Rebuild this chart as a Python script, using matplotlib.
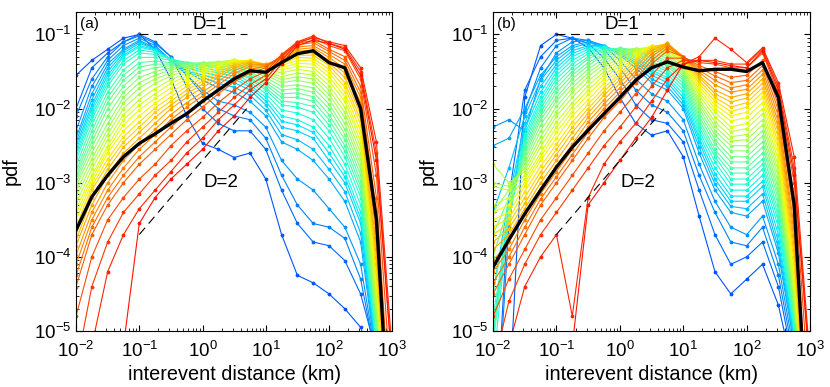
import matplotlib
matplotlib.use("Agg")
import matplotlib.pyplot as plt
import numpy as np

# grid of log10(distance in km) shared by all curves
log_x = [-2.0, -1.75, -1.5, -1.25, -1.0, -0.75, -0.5, -0.25, 0.0, 0.25, 0.5,
         0.75, 1.0, 1.25, 1.5, 1.75, 2.0, 2.25, 2.5, 2.75, 3.0]

# log10(pdf) for each curve, blue -> red
curves_a = [
    [-1.55, -1.35, -1.2, -1.05, -1.0, -1.2, -1.6, -2.1, -2.47, -2.55, -2.66, -2.6, -2.95, -3.7, -4.25, -4.35, -4.5, -4.7, -4.95, -5.6, -7],
    [-2.0, -1.45, -1.25, -1.1, -1.0, -1.1, -1.3, -1.7, -2.0, -2.2, -2.3, -2.3, -2.55, -3.1, -3.55, -3.8, -3.85, -4.05, -4.5, -5.3, -7],
    [-2.1, -1.6, -1.3, -1.1, -1.02, -1.12, -1.3, -1.55, -1.8, -2.0, -2.1, -2.15, -2.4, -2.9, -3.3, -3.55, -3.6, -3.75, -4.3, -5.4, -7],
    [-2.3, -1.7, -1.35, -1.15, -1.05, -1.15, -1.35, -1.55, -1.75, -1.9, -1.95, -2.05, -2.25, -2.7, -2.95, -3.1, -3.35, -3.6, -4.1, -5.4, -7],
    [-2.4, -1.8, -1.4, -1.2, -1.08, -1.18, -1.35, -1.5, -1.62, -1.72, -1.78, -1.9, -2.1, -2.45, -2.55, -2.7, -2.95, -3.25, -3.8, -5.4, -7],
    [-2.45, -1.88, -1.45, -1.22, -1.1, -1.19, -1.35, -1.49, -1.58, -1.66, -1.71, -1.82, -2.02, -2.35, -2.42, -2.55, -2.82, -3.12, -3.68, -5.35, -7],
    [-2.5, -1.95, -1.5, -1.25, -1.12, -1.2, -1.35, -1.48, -1.55, -1.6, -1.65, -1.75, -1.95, -2.25, -2.3, -2.4, -2.7, -3.0, -3.55, -5.3, -7],
    [-2.55, -2.0, -1.55, -1.28, -1.15, -1.21, -1.34, -1.45, -1.51, -1.56, -1.6, -1.71, -1.9, -2.17, -2.22, -2.32, -2.6, -2.92, -3.48, -5.25, -7],
    [-2.6, -2.05, -1.6, -1.3, -1.17, -1.22, -1.33, -1.42, -1.48, -1.52, -1.56, -1.68, -1.85, -2.1, -2.15, -2.25, -2.5, -2.85, -3.4, -5.2, -7],
    [-2.65, -2.1, -1.65, -1.35, -1.21, -1.24, -1.33, -1.4, -1.45, -1.49, -1.53, -1.64, -1.8, -2.02, -2.06, -2.15, -2.4, -2.75, -3.3, -5.15, -7],
    [-2.7, -2.15, -1.7, -1.4, -1.25, -1.27, -1.33, -1.38, -1.42, -1.46, -1.5, -1.6, -1.75, -1.95, -1.98, -2.05, -2.3, -2.65, -3.2, -5.1, -7],
    [-2.78, -2.22, -1.78, -1.48, -1.31, -1.31, -1.35, -1.38, -1.41, -1.44, -1.48, -1.58, -1.72, -1.9, -1.92, -1.97, -2.22, -2.57, -3.12, -5.05, -7],
    [-2.85, -2.3, -1.85, -1.55, -1.38, -1.36, -1.38, -1.38, -1.4, -1.42, -1.45, -1.55, -1.68, -1.85, -1.85, -1.9, -2.15, -2.5, -3.05, -5.0, -7],
    [-2.9, -2.38, -1.92, -1.62, -1.44, -1.4, -1.4, -1.39, -1.39, -1.4, -1.43, -1.52, -1.65, -1.8, -1.79, -1.84, -2.08, -2.42, -2.98, -4.95, -7],
    [-2.95, -2.45, -2.0, -1.7, -1.5, -1.45, -1.42, -1.4, -1.38, -1.39, -1.42, -1.5, -1.62, -1.75, -1.73, -1.78, -2.0, -2.35, -2.9, -4.9, -7],
    [-3.0, -2.52, -2.1, -1.78, -1.58, -1.5, -1.45, -1.41, -1.38, -1.38, -1.4, -1.47, -1.58, -1.7, -1.68, -1.72, -1.94, -2.28, -2.82, -4.82, -7],
    [-3.05, -2.6, -2.2, -1.85, -1.65, -1.55, -1.48, -1.42, -1.38, -1.37, -1.38, -1.45, -1.55, -1.65, -1.62, -1.66, -1.87, -2.2, -2.75, -4.75, -7],
    [-3.12, -2.68, -2.28, -1.92, -1.72, -1.6, -1.52, -1.45, -1.4, -1.37, -1.36, -1.42, -1.52, -1.61, -1.57, -1.6, -1.81, -2.12, -2.68, -4.68, -7],
    [-3.2, -2.75, -2.35, -2.0, -1.8, -1.66, -1.56, -1.48, -1.42, -1.37, -1.35, -1.4, -1.5, -1.57, -1.52, -1.55, -1.75, -2.05, -2.6, -4.6, -7],
    [-3.28, -2.82, -2.42, -2.08, -1.88, -1.73, -1.61, -1.52, -1.45, -1.38, -1.34, -1.38, -1.47, -1.52, -1.47, -1.5, -1.69, -1.98, -2.52, -4.52, -7],
    [-3.35, -2.9, -2.5, -2.15, -1.95, -1.8, -1.66, -1.56, -1.48, -1.4, -1.34, -1.37, -1.45, -1.48, -1.43, -1.45, -1.63, -1.9, -2.45, -4.45, -7],
    [-3.42, -2.95, -2.55, -2.22, -2.02, -1.86, -1.72, -1.6, -1.51, -1.42, -1.35, -1.36, -1.43, -1.45, -1.39, -1.4, -1.57, -1.84, -2.38, -4.38, -7],
    [-3.5, -3.0, -2.6, -2.3, -2.1, -1.93, -1.78, -1.65, -1.55, -1.45, -1.36, -1.35, -1.42, -1.42, -1.35, -1.36, -1.52, -1.78, -2.3, -4.3, -7],
    [-3.6, -3.05, -2.68, -2.38, -2.18, -1.99, -1.84, -1.7, -1.59, -1.48, -1.38, -1.35, -1.41, -1.4, -1.31, -1.32, -1.47, -1.71, -2.22, -4.2, -7],
    [-3.7, -3.1, -2.75, -2.45, -2.25, -2.05, -1.9, -1.75, -1.63, -1.52, -1.4, -1.36, -1.4, -1.38, -1.28, -1.28, -1.42, -1.65, -2.15, -4.1, -7],
    [-3.78, -3.2, -2.82, -2.52, -2.32, -2.12, -1.95, -1.8, -1.67, -1.55, -1.42, -1.37, -1.4, -1.36, -1.25, -1.25, -1.38, -1.58, -2.08, -4.0, -7],
    [-3.85, -3.3, -2.9, -2.6, -2.4, -2.2, -2.0, -1.85, -1.72, -1.58, -1.45, -1.38, -1.4, -1.34, -1.22, -1.22, -1.35, -1.52, -2.0, -3.9, -7],
    [-3.98, -3.4, -3.0, -2.7, -2.48, -2.28, -2.08, -1.92, -1.78, -1.63, -1.49, -1.4, -1.41, -1.32, -1.2, -1.18, -1.31, -1.46, -1.92, -3.75, -7],
    [-4.1, -3.5, -3.1, -2.8, -2.55, -2.35, -2.15, -1.98, -1.83, -1.68, -1.53, -1.43, -1.42, -1.3, -1.17, -1.15, -1.27, -1.4, -1.85, -3.6, -7],
    [-4.25, -3.6, -3.2, -2.9, -2.65, -2.45, -2.25, -2.06, -1.9, -1.74, -1.58, -1.47, -1.43, -1.29, -1.14, -1.11, -1.23, -1.35, -1.78, -3.4, -6.8],
    [-4.4, -3.7, -3.3, -3.0, -2.75, -2.55, -2.35, -2.15, -1.98, -1.8, -1.64, -1.52, -1.45, -1.28, -1.12, -1.08, -1.2, -1.3, -1.7, -3.2, -6.5],
    [-4.8, -4.0, -3.5, -3.2, -2.95, -2.75, -2.5, -2.3, -2.12, -1.92, -1.75, -1.6, -1.5, -1.27, -1.1, -1.05, -1.15, -1.22, -1.6, -2.9, -6],
    [-5.5, -4.4, -3.8, -3.4, -3.15, -2.9, -2.7, -2.45, -2.25, -2.05, -1.85, -1.68, -1.55, -1.3, -1.1, -1.02, -1.12, -1.18, -1.5, -2.6, -5.5],
    [-6, -5.2, -4.2, -3.7, -3.35, -3.1, -2.85, -2.6, -2.4, -2.15, -1.95, -1.75, -1.6, -1.35, -1.12, -1.04, -1.1, -1.15, -1.45, -2.45, -5.3],
    [-7, -7, -7, -5.2, -3.55, -3.2, -2.95, -2.75, -2.55, -2.3, -2.1, -1.85, -1.65, -1.4, -1.15, -1.08, -1.12, -1.2, -1.55, -2.7, -5.5],
]
black_a = [-3.64, -3.19, -2.9, -2.65, -2.47, -2.34, -2.2, -2.07, -1.9, -1.75, -1.6, -1.49, -1.51, -1.38, -1.26, -1.22, -1.38, -1.45, -2.0, -3.5, -7]

curves_b = [
    [-7, -6, -1.85, -1.15, -1.0, -1.05, -1.18, -1.45, -1.85, -2.2, -2.36, -2.3, -2.65, -3.45, -4.2, -4.5, -4.3, -4.1, -4.65, -5.6, -7],
    [-7, -3.2, -1.75, -1.3, -1.08, -1.05, -1.12, -1.32, -1.6, -1.95, -2.15, -2.2, -2.45, -3.1, -3.7, -4.1, -4.0, -3.8, -4.4, -5.5, -7],
    [-7, -3.6, -2.05, -1.45, -1.15, -1.05, -1.08, -1.2, -1.45, -1.75, -1.95, -2.05, -2.3, -2.9, -3.4, -3.8, -3.85, -3.6, -4.25, -5.4, -7],
    [-2.25, -2.15, -2.3, -1.6, -1.25, -1.1, -1.08, -1.15, -1.35, -1.6, -1.8, -1.9, -2.15, -2.75, -3.25, -3.6, -3.7, -3.45, -4.1, -5.3, -7],
    [-2.5, -2.4, -2.0, -1.55, -1.3, -1.15, -1.1, -1.15, -1.28, -1.45, -1.65, -1.75, -2.0, -2.6, -3.1, -3.4, -3.45, -3.25, -3.95, -5.2, -7],
    [-3.4, -2.8, -2.1, -1.62, -1.35, -1.18, -1.12, -1.15, -1.26, -1.41, -1.6, -1.7, -1.95, -2.52, -3.02, -3.32, -3.35, -3.15, -3.88, -5.15, -7],
    [-4.5, -3.2, -2.2, -1.7, -1.4, -1.22, -1.15, -1.15, -1.25, -1.38, -1.55, -1.65, -1.9, -2.45, -2.95, -3.25, -3.25, -3.05, -3.8, -5.1, -7],
    [-5.0, -3.3, -2.28, -1.78, -1.45, -1.26, -1.17, -1.16, -1.23, -1.35, -1.51, -1.61, -1.85, -2.4, -2.88, -3.18, -3.18, -2.98, -3.7, -5.05, -7],
    [-5.5, -3.4, -2.35, -1.85, -1.5, -1.3, -1.2, -1.17, -1.22, -1.32, -1.48, -1.58, -1.8, -2.35, -2.8, -3.1, -3.1, -2.9, -3.6, -5.0, -7],
    [-5.1, -3.45, -2.4, -1.9, -1.55, -1.35, -1.23, -1.18, -1.21, -1.3, -1.44, -1.54, -1.75, -2.3, -2.72, -3.02, -3.02, -2.82, -3.52, -4.95, -7],
    [-4.8, -3.5, -2.45, -1.95, -1.6, -1.4, -1.26, -1.2, -1.2, -1.27, -1.4, -1.5, -1.7, -2.25, -2.65, -2.95, -2.95, -2.75, -3.45, -4.9, -7],
    [-5.0, -3.45, -2.5, -2.0, -1.66, -1.45, -1.3, -1.21, -1.19, -1.24, -1.36, -1.47, -1.66, -2.2, -2.6, -2.87, -2.87, -2.68, -3.38, -4.85, -7],
    [-5.2, -3.4, -2.55, -2.05, -1.72, -1.5, -1.33, -1.23, -1.18, -1.22, -1.32, -1.43, -1.62, -2.15, -2.55, -2.8, -2.8, -2.6, -3.3, -4.8, -7],
    [-4.5, -3.35, -2.6, -2.1, -1.78, -1.55, -1.38, -1.26, -1.19, -1.21, -1.29, -1.4, -1.59, -2.1, -2.48, -2.72, -2.72, -2.52, -3.22, -4.75, -7],
    [-4.0, -3.3, -2.65, -2.15, -1.85, -1.6, -1.42, -1.28, -1.2, -1.2, -1.26, -1.37, -1.56, -2.05, -2.42, -2.65, -2.65, -2.45, -3.15, -4.7, -7],
    [-3.7, -3.2, -2.7, -2.22, -1.9, -1.66, -1.47, -1.32, -1.22, -1.19, -1.23, -1.33, -1.53, -2.0, -2.36, -2.57, -2.57, -2.37, -3.08, -4.65, -7],
    [-3.4, -3.1, -2.75, -2.3, -1.97, -1.72, -1.52, -1.36, -1.24, -1.19, -1.2, -1.3, -1.5, -1.95, -2.3, -2.5, -2.5, -2.3, -3.0, -4.6, -7],
    [-3.0, -3.05, -2.8, -2.38, -2.04, -1.78, -1.57, -1.4, -1.27, -1.19, -1.18, -1.27, -1.47, -1.91, -2.24, -2.44, -2.42, -2.22, -2.92, -4.55, -7],
    [-2.75, -3.0, -2.85, -2.45, -2.1, -1.85, -1.63, -1.45, -1.3, -1.2, -1.17, -1.25, -1.45, -1.87, -2.18, -2.38, -2.35, -2.15, -2.85, -4.5, -7],
    [-3.05, -3.1, -2.9, -2.52, -2.18, -1.92, -1.69, -1.5, -1.34, -1.22, -1.16, -1.22, -1.42, -1.82, -2.11, -2.31, -2.27, -2.07, -2.78, -4.42, -7],
    [-3.3, -3.2, -2.95, -2.6, -2.25, -1.98, -1.75, -1.55, -1.38, -1.24, -1.15, -1.2, -1.4, -1.78, -2.05, -2.25, -2.2, -2.0, -2.7, -4.35, -7],
    [-3.4, -3.3, -3.0, -2.65, -2.32, -2.04, -1.81, -1.6, -1.42, -1.27, -1.15, -1.17, -1.38, -1.74, -2.0, -2.17, -2.12, -1.92, -2.62, -4.28, -7],
    [-3.5, -3.4, -3.05, -2.7, -2.4, -2.1, -1.88, -1.66, -1.47, -1.3, -1.15, -1.15, -1.36, -1.7, -1.95, -2.1, -2.05, -1.85, -2.55, -4.2, -7],
    [-3.6, -3.48, -3.12, -2.78, -2.48, -2.18, -1.94, -1.72, -1.52, -1.33, -1.16, -1.13, -1.34, -1.66, -1.9, -2.04, -1.98, -1.78, -2.48, -4.1, -7],
    [-3.7, -3.55, -3.2, -2.85, -2.55, -2.25, -2.0, -1.77, -1.56, -1.36, -1.18, -1.12, -1.32, -1.62, -1.85, -1.98, -1.92, -1.72, -2.4, -4.0, -7],
    [-3.8, -3.62, -3.28, -2.92, -2.62, -2.32, -2.06, -1.82, -1.61, -1.4, -1.2, -1.12, -1.31, -1.58, -1.8, -1.91, -1.86, -1.66, -2.32, -3.9, -7],
    [-3.9, -3.7, -3.35, -3.0, -2.7, -2.4, -2.12, -1.88, -1.66, -1.44, -1.22, -1.12, -1.3, -1.55, -1.75, -1.85, -1.8, -1.6, -2.25, -3.8, -7],
    [-4.05, -3.8, -3.42, -3.08, -2.78, -2.48, -2.18, -1.94, -1.72, -1.49, -1.26, -1.13, -1.3, -1.51, -1.68, -1.78, -1.74, -1.54, -2.18, -3.7, -7],
    [-4.2, -3.9, -3.5, -3.15, -2.85, -2.55, -2.25, -2.0, -1.78, -1.54, -1.3, -1.15, -1.3, -1.48, -1.62, -1.72, -1.68, -1.48, -2.1, -3.6, -7],
    [-4.35, -4.0, -3.6, -3.22, -2.92, -2.62, -2.32, -2.06, -1.84, -1.6, -1.35, -1.18, -1.3, -1.45, -1.56, -1.65, -1.62, -1.42, -2.02, -3.45, -6.8],
    [-4.5, -4.1, -3.7, -3.3, -3.0, -2.7, -2.4, -2.12, -1.9, -1.65, -1.4, -1.22, -1.3, -1.42, -1.5, -1.58, -1.55, -1.35, -1.95, -3.3, -6.5],
    [-4.8, -4.3, -3.9, -3.5, -3.2, -2.9, -2.6, -2.3, -2.05, -1.8, -1.55, -1.32, -1.32, -1.38, -1.4, -1.45, -1.45, -1.25, -1.8, -3.0, -6],
    [-5.5, -4.6, -4.1, -3.7, -3.4, -3.1, -2.8, -2.5, -2.25, -1.98, -1.7, -1.45, -1.35, -1.35, -1.35, -1.4, -1.4, -1.2, -1.7, -2.8, -5.6],
    [-6, -5.2, -4.4, -4.0, -3.7, -4.8, -3.2, -2.75, -2.45, -2.2, -1.9, -1.6, -1.4, -1.3, -1.05, -1.2, -1.38, -1.18, -1.65, -2.65, -5.4],
    [-7, -7, -7, -7, -7, -5.2, -3.3, -3.0, -2.7, -2.4, -2.12, -1.75, -1.4, -1.35, -1.38, -1.42, -1.45, -1.22, -1.75, -2.9, -5.5],
]
black_b = [-4.14, -3.77, -3.42, -3.1, -2.79, -2.52, -2.29, -2.07, -1.85, -1.62, -1.45, -1.37, -1.44, -1.49, -1.47, -1.47, -1.5, -1.38, -1.85, -3.3, -7]

# reference slopes D=1 and D=2
guide_x = [0.1, 5.0]
d1_y = [0.1, 0.1]
d2_y = [2e-4, 1e-2]

panels = [
    ("(a)", curves_a, black_a, (1.3, 1.95)),
    ("(b)", curves_b, black_b, (1.08, 1.9)),
]

plt.rcParams['font.family'] = ['Liberation Sans', 'DejaVu Sans']
plt.rcParams['mathtext.default'] = 'regular'

fig = plt.figure(figsize=(8.3, 3.87), dpi=100)
positions = [[0.0916, 0.1447, 0.381, 0.824], [0.594, 0.1447, 0.382, 0.824]]

x = 10 ** np.array(log_x)
cmap = plt.get_cmap('jet')

for pos, (tag, curves, black, (tx1, tx2)) in zip(positions, panels):
    ax = fig.add_axes(pos)
    n = len(curves)
    for i, c in enumerate(curves):
        col = cmap(0.21 + 0.68 * i / (n - 1))
        ax.plot(x, 10 ** np.array(c), '-', marker='.', ms=3.5, lw=0.8, color=col)
    ax.plot(x, 10 ** np.array(black), '-', color='black', lw=2.4)

    ax.plot(guide_x, d1_y, color='black', lw=0.8, dashes=(8, 5))
    ax.plot(guide_x, d2_y, color='black', lw=0.8, dashes=(8, 5))
    ax.text(tx1, 0.135, "D=1", fontsize=13.5, ha='center', va='center')
    ax.text(tx2, 1e-3, "D=2", fontsize=13.5, ha='center', va='center')
    ax.text(0.012, 0.962, tag, transform=ax.transAxes, fontsize=11, ha='left', va='center')

    ax.set_xscale('log')
    ax.set_yscale('log')
    ax.set_xlim(1e-2, 1e3)
    ax.set_ylim(1e-5, 0.2)
    ax.set_xticks([1e-2, 1e-1, 1, 1e1, 1e2, 1e3])
    ax.set_yticks([1e-5, 1e-4, 1e-3, 1e-2, 1e-1])
    ax.tick_params(which='both', direction='in', top=True, right=True, labelsize=13.5)
    ax.tick_params(axis='x', which='major', pad=7)
    ax.tick_params(which='major', length=4)
    ax.tick_params(which='minor', length=2)
    ax.set_xlabel("interevent distance (km)", fontsize=14.3, labelpad=3)
    ax.set_ylabel("pdf", fontsize=14.3, labelpad=9)

fig.savefig('out.png', dpi=100)
